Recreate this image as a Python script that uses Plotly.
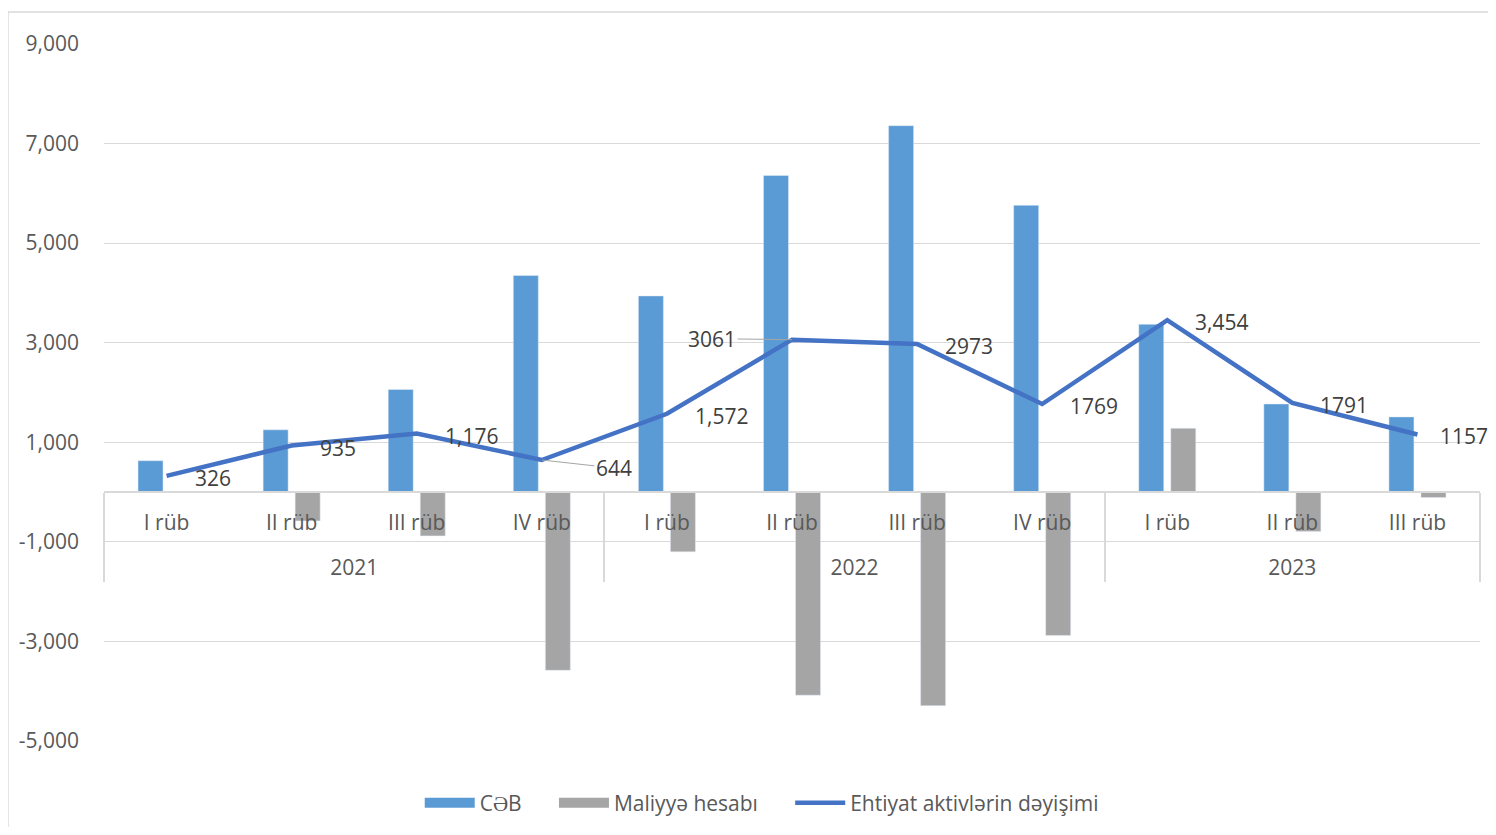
import plotly.graph_objects as go

years = ["2021"] * 4 + ["2022"] * 4 + ["2023"] * 3
quarters = ["I rüb", "II rüb", "III rüb", "IV rüb",
            "I rüb", "II rüb", "III rüb", "IV rüb",
            "I rüb", "II rüb", "III rüb"]
ceb = [630, 1250, 2060, 4350, 3940, 6360, 7360, 5760, 3370, 1770, 1510]
maliyye = [0, -580, -880, -3580, -1200, -4080, -4290, -2880, 1280, -790, -110]
ehtiyat = [326, 935, 1176, 644, 1572, 3061, 2973, 1769, 3454, 1791, 1157]
ehtiyat_labels = ["326", "935", "1,176", "644", "1,572", "3061", "2973",
                  "1769", "3,454", "1791", "1157"]
ytick_vals = [9000, 7000, 5000, 3000, 1000, -1000, -3000, -5000]
ytick_text = ["9,000", "7,000", "5,000", "3,000", "1,000", "-1,000", "-3,000", "-5,000"]

FONT = "Open Sans"
x = [["<br>" + y for y in years], quarters]

BLUE = "#5B9BD5"
GRAY = "#A5A5A5"
LINE = "#4472C4"
PAD = "\u00a0" * 5

fig = go.Figure()
fig.add_trace(go.Bar(x=x, y=ceb, name="CƏB", marker_color=BLUE,
                     width=0.2, offset=-0.228, showlegend=False, legendgroup="a"))
fig.add_trace(go.Bar(x=x, y=maliyye, name="Maliyyə hesabı", marker_color=GRAY,
                     width=0.2, offset=0.028, showlegend=False, legendgroup="b"))
fig.add_trace(go.Scatter(x=x, y=ehtiyat, name="Ehtiyat aktivlərin dəyişimi",
                         mode="lines", line=dict(color=LINE, width=4.5), showlegend=False,
                         legendgroup="c"))
# legend entries (wide swatches like the reference)
fig.add_trace(go.Scatter(x=[None], y=[None], mode="lines", name="CƏB" + PAD,
                         line=dict(color=BLUE, width=14), legendgroup="a"))
fig.add_trace(go.Scatter(x=[None], y=[None], mode="lines", name="Maliyyə hesabı" + PAD,
                         line=dict(color=GRAY, width=14), legendgroup="b"))
fig.add_trace(go.Scatter(x=[None], y=[None], mode="lines", name="Ehtiyat aktivlərin dəyişimi",
                         line=dict(color=LINE, width=4.5), legendgroup="c"))

annotations = []
for i, (v, t) in enumerate(zip(ehtiyat, ehtiyat_labels)):
    lf = dict(family=FONT, size=21, color="#404040")
    if t == "644":
        annotations.append(dict(x=i, y=v, xref="x", yref="y", text=t, showarrow=True,
                                arrowhead=0, arrowcolor="#A5A5A5", arrowwidth=1,
                                ax=72, ay=8, standoff=0, font=lf))
    elif t == "3061":
        annotations.append(dict(x=i, y=v, xref="x", yref="y", text=t, showarrow=True,
                                arrowhead=0, arrowcolor="#A5A5A5", arrowwidth=1,
                                ax=-80, ay=-1, standoff=0, font=lf))
    else:
        annotations.append(dict(x=i, y=v, xref="x", yref="y", text=t, showarrow=False,
                                xanchor="left", xshift=21 if i == len(ehtiyat) - 1 else 26,
                                yshift=-2, font=lf))

fig.update_layout(
    width=1480, height=819,
    margin=dict(l=96, r=8, t=36, b=86, autoexpand=False),
    plot_bgcolor="white", paper_bgcolor="white",
    barmode="overlay",
    font=dict(family=FONT, size=21, color="#595959"),
    annotations=annotations,
    showlegend=True,
    legend=dict(orientation="h", x=0.478, xanchor="center", y=-0.089, yanchor="middle",
                font=dict(family=FONT, size=21, color="#595959"), itemwidth=50,
                tracegroupgap=0),
    shapes=[dict(type="rect", xref="paper", yref="paper", x0=-0.0698, x1=1.05,
                 y0=-0.3, y1=1.0459, line=dict(color="#D9D9D9", width=1.5),
                 fillcolor="rgba(0,0,0,0)", layer="below")],
)
fig.update_yaxes(range=[-5000, 9000], tickvals=ytick_vals, ticktext=ytick_text,
                 showgrid=True, gridcolor="#D9D9D9", gridwidth=1, zeroline=False,
                 showline=False, ticks="", ticklabelstandoff=24,
                 tickfont=dict(family=FONT, size=21, color="#595959"))
fig.update_xaxes(type="multicategory", anchor="free", position=5000 / 14000,
                 range=[-0.5, 10.5],
                 showline=True, linecolor="#D9D9D9", linewidth=1.5,
                 showdividers=True, dividercolor="#D9D9D9", dividerwidth=1.5,
                 ticklabelstandoff=12,
                 tickfont=dict(family=FONT, size=21, color="#595959"), showgrid=False)

fig.write_html("out.html")
